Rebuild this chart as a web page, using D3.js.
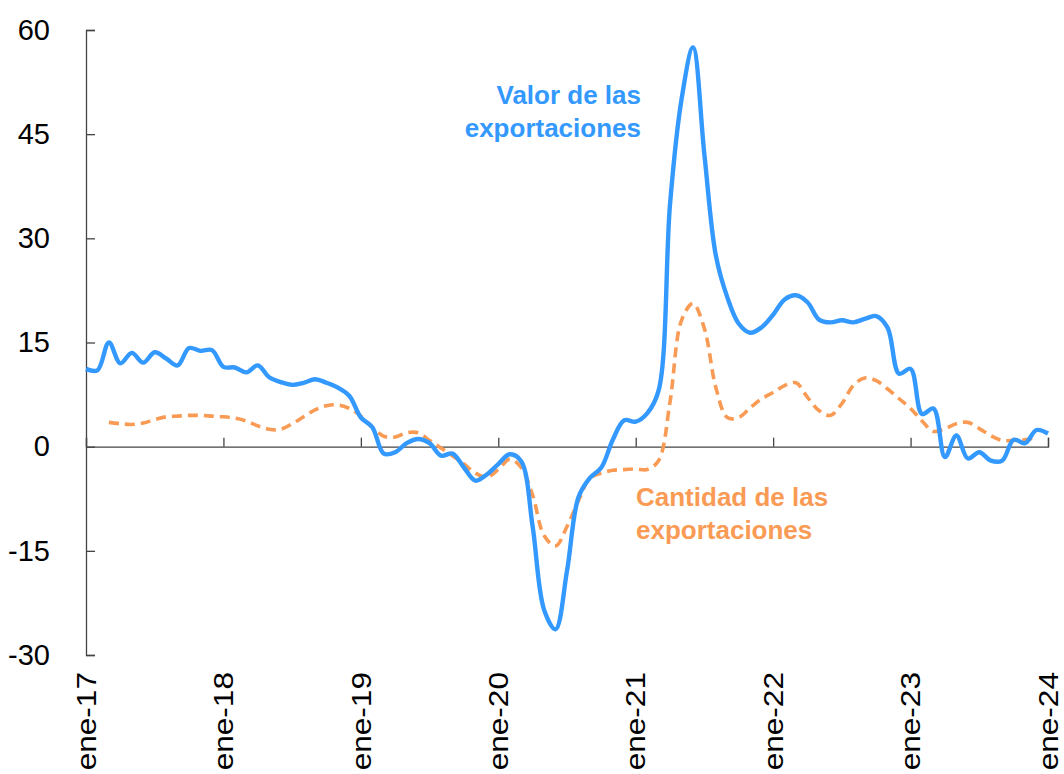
<!DOCTYPE html>
<html>
<head>
<meta charset="utf-8">
<script src="https://cdn.jsdelivr.net/npm/d3@7"></script>
<style>
  body { margin: 0; background: #fff; }
  text { font-family: "Liberation Sans", Arial, sans-serif; }
</style>
</head>
<body>
<div id="chart"></div>
<script>
// monthly series, ene-17 .. ene-24
var valorExport = [11.2, 11.0, 15.0, 12.0, 13.5, 12.1, 13.6, 12.7, 11.7, 14.2, 13.8, 13.9,
  11.5, 11.4, 10.7, 11.7, 10.0, 9.3, 8.9, 9.2, 9.7, 9.2, 8.5, 7.3,
  4.2, 2.8, -1.0, -0.8, 0.5, 1.1, 0.5, -1.3, -1.0, -3.0, -4.9, -4.0,
  -2.5, -1.1, -2.1, -11.5, -23.5, -26.3, -17.9, -7.3, -4.5, -3.0, 1.0, 3.8,
  3.6, 4.8, 8.1, 35.0, 50.0, 57.5, 42.0, 27.5, 21.5, 17.7, 16.4, 17.2,
  19.0, 21.2, 21.8, 20.8, 18.3, 17.9, 18.2, 17.9, 18.4, 18.8, 17.1, 10.5,
  11.2, 4.7, 5.5, -1.5, 1.6, -1.7, -0.8, -2.0, -2.0, 1.0, 0.5, 2.4, 1.9];

// starts in mar-17 (month 2)
var cantidadStart = 2;
var cantidadExport = [3.5, 3.3, 3.2, 3.4, 3.9, 4.3, 4.4, 4.5, 4.5, 4.4,
  4.3, 4.1, 3.7, 3.0, 2.5, 2.5, 3.3, 4.3, 5.3, 5.9, 6.0, 5.5,
  4.4, 2.8, 1.5, 1.4, 2.0, 2.0, 0.9, -0.2, -1.3, -2.5, -3.8, -4.4,
  -3.3, -1.8, -3.0, -7.0, -12.8, -14.3, -11.5, -7.8, -4.5, -3.8, -3.4, -3.3,
  -3.2, -3.3, -2.0, 6.5, 18.2, 20.6, 17.0, 8.5, 4.2, 4.2, 5.6, 6.9,
  7.8, 8.8, 9.2, 7.1, 5.2, 4.5, 6.2, 8.8, 9.9, 9.5, 8.3, 6.9,
  5.5, 3.7, 2.2, 2.6, 3.3, 3.5, 2.6, 1.6, 0.9, 0.9, 1.0, 1.3];

var xTickLabels = ["ene-17", "ene-18", "ene-19", "ene-20", "ene-21", "ene-22", "ene-23", "ene-24"];
var yTicks = [-30, -15, 0, 15, 30, 45, 60];

var svgWidth = 1064;
var svgHeight = 774;
var margin = { top: 30, right: 16, bottom: 119, left: 86 };
var width = svgWidth - margin.left - margin.right;
var height = svgHeight - margin.top - margin.bottom;

var svg = d3.select("#chart")
  .append("svg")
  .attr("width", svgWidth)
  .attr("height", svgHeight);

var chartGroup = svg.append("g")
  .attr("transform", `translate(${margin.left}, ${margin.top})`);

var x = d3.scaleLinear().domain([0, 84]).range([0, width]);
var y = d3.scaleLinear().domain([-30, 60]).range([height, 0]);

// y axis, ticks inside
var leftAxis = d3.axisLeft(y).tickValues(yTicks).tickSize(-9).tickPadding(36).tickFormat(d => String(d));
var yAxis = chartGroup.append("g").call(leftAxis);
yAxis.select(".domain").attr("stroke", "#444").attr("stroke-width", 1.3);
yAxis.selectAll(".tick line").attr("stroke", "#444").attr("stroke-width", 1.3);
yAxis.selectAll(".tick text")
  .attr("font-size", 29)
  .attr("fill", "#000")
  .attr("font-family", "Liberation Sans, Arial, sans-serif");

// x axis at zero
var bottomAxis = d3.axisBottom(x)
  .tickValues(d3.range(0, 85, 12))
  .tickSize(-9)
  .tickFormat((d, i) => xTickLabels[i]);
var xAxis = chartGroup.append("g")
  .attr("transform", `translate(0, ${y(0)})`)
  .call(bottomAxis);
xAxis.select(".domain").attr("stroke", "#444").attr("stroke-width", 1.3);
xAxis.selectAll(".tick line").attr("stroke", "#444").attr("stroke-width", 1.3);
xAxis.selectAll(".tick text").remove();

// rotated labels below the plot
chartGroup.append("g")
  .selectAll("text")
  .data(xTickLabels)
  .enter()
  .append("text")
  .attr("transform", (d, i) => `translate(${x(i * 12)}, ${height + 17}) rotate(-90) scale(1.17, 1)`)
  .attr("text-anchor", "end")
  .attr("dy", "0.36em")
  .attr("font-size", 27)
  .attr("fill", "#000")
  .text(d => d);

var line = d3.line()
  .x(d => x(d.m))
  .y(d => y(d.v))
  .curve(d3.curveCatmullRom.alpha(0.5));

var cantidadData = cantidadExport.map((v, i) => ({ m: i + cantidadStart, v: v }));
var valorData = valorExport.map((v, i) => ({ m: i, v: v }));

chartGroup.append("path")
  .datum(cantidadData)
  .attr("fill", "none")
  .attr("stroke", "#F99B55")
  .attr("stroke-width", 3.6)
  .attr("stroke-dasharray", "10,6")
  .attr("d", line);

chartGroup.append("path")
  .datum(valorData)
  .attr("fill", "none")
  .attr("stroke", "#3399FF")
  .attr("stroke-width", 4.4)
  .attr("stroke-linejoin", "round")
  .attr("d", line);

// annotations
var valorLabel = svg.append("text")
  .attr("text-anchor", "end")
  .attr("font-size", 26)
  .attr("font-weight", "bold")
  .attr("fill", "#3399FF");
valorLabel.append("tspan").attr("x", 641).attr("y", 104).text("Valor de las");
valorLabel.append("tspan").attr("x", 641).attr("y", 137).text("exportaciones");

var cantidadLabel = svg.append("text")
  .attr("text-anchor", "start")
  .attr("font-size", 26)
  .attr("font-weight", "bold")
  .attr("fill", "#F99B55");
cantidadLabel.append("tspan").attr("x", 636).attr("y", 506).text("Cantidad de las");
cantidadLabel.append("tspan").attr("x", 636).attr("y", 539).text("exportaciones");
</script>
</body>
</html>
